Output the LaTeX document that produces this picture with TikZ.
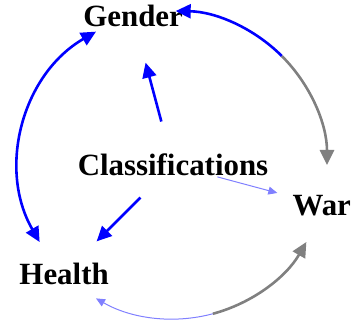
\documentclass[tikz,border=0pt]{standalone}
\usepackage{fontspec}
\setmainfont{Liberation Serif}
\usetikzlibrary{arrows.meta,calc}
\definecolor{edgeblue}{RGB}{0,0,255}
\definecolor{edgegray}{RGB}{128,128,128}
\definecolor{edgepale}{RGB}{128,128,255}
\begin{document}
\begin{tikzpicture}[x=1bp,y=1bp,
  lbl/.style={font=\fontsize{31}{37}\selectfont\bfseries, inner sep=0pt,
              text height=20.5bp, text depth=0pt, anchor=center},
  heavy/.style={line width=2.6bp, -{Triangle[length=15bp,width=14bp]}},
  heavyboth/.style={line width=2.6bp,
              {Triangle[length=15bp,width=14bp]}-{Triangle[length=15bp,width=14bp]}},
  light/.style={line width=1bp, -{Triangle[length=9bp,width=8bp]}},
]
\useasboundingbox (0,0) rectangle (354,321);
\def\R{154}
\coordinate (C) at (173,156);

% nodes on a circle, one in the middle
\node[lbl] (cls) at (C) {Classifications};
\node[lbl] (gen) at ($(C)+(105:\R)$) {Gender};
\node[lbl] (hea) at ($(C)+(225:\R)$) {Health};
\node[lbl] (war) at ($(C)+(345:\R)$) {War};

% radial connectors from the centre
\coordinate (cg0) at ($(C)+(105:45)$);
\coordinate (cg1) at ($(C)+(105:106)$);
\coordinate (ch0) at ($(C)+(225:46)$);
\coordinate (ch1) at ($(C)+(225:108)$);
\coordinate (cw0) at ($(C)+(345:46)$);
\coordinate (cw1) at ($(C)+(345:108)$);
\draw[heavy, edgeblue] (cg0) -- (cg1);
\draw[heavy, edgeblue] (ch0) -- (ch1);
\draw[light, edgepale] (cw0) -- (cw1);

% Gender <-> Health along the left
\coordinate (gh0) at ($(C)+(120:\R)$);
\draw[heavyboth, edgeblue] (gh0) arc[start angle=120, end angle=210, radius=\R];

% War <-> Gender along the right, two halves
\coordinate (wg) at ($(C)+(45:\R)$);
\draw[heavy, edgeblue] (wg) arc[start angle=45, end angle=89, radius=\R];
\draw[heavy, edgegray] (wg) arc[start angle=45, end angle=0, radius=\R];

% Health <-> War along the bottom, two halves
\coordinate (hw) at ($(C)+(285:\R)$);
\draw[light, edgepale] (hw) arc[start angle=285, end angle=240, radius=\R];
\draw[heavy, edgegray] (hw) arc[start angle=285, end angle=330, radius=\R];
\end{tikzpicture}
\end{document}
